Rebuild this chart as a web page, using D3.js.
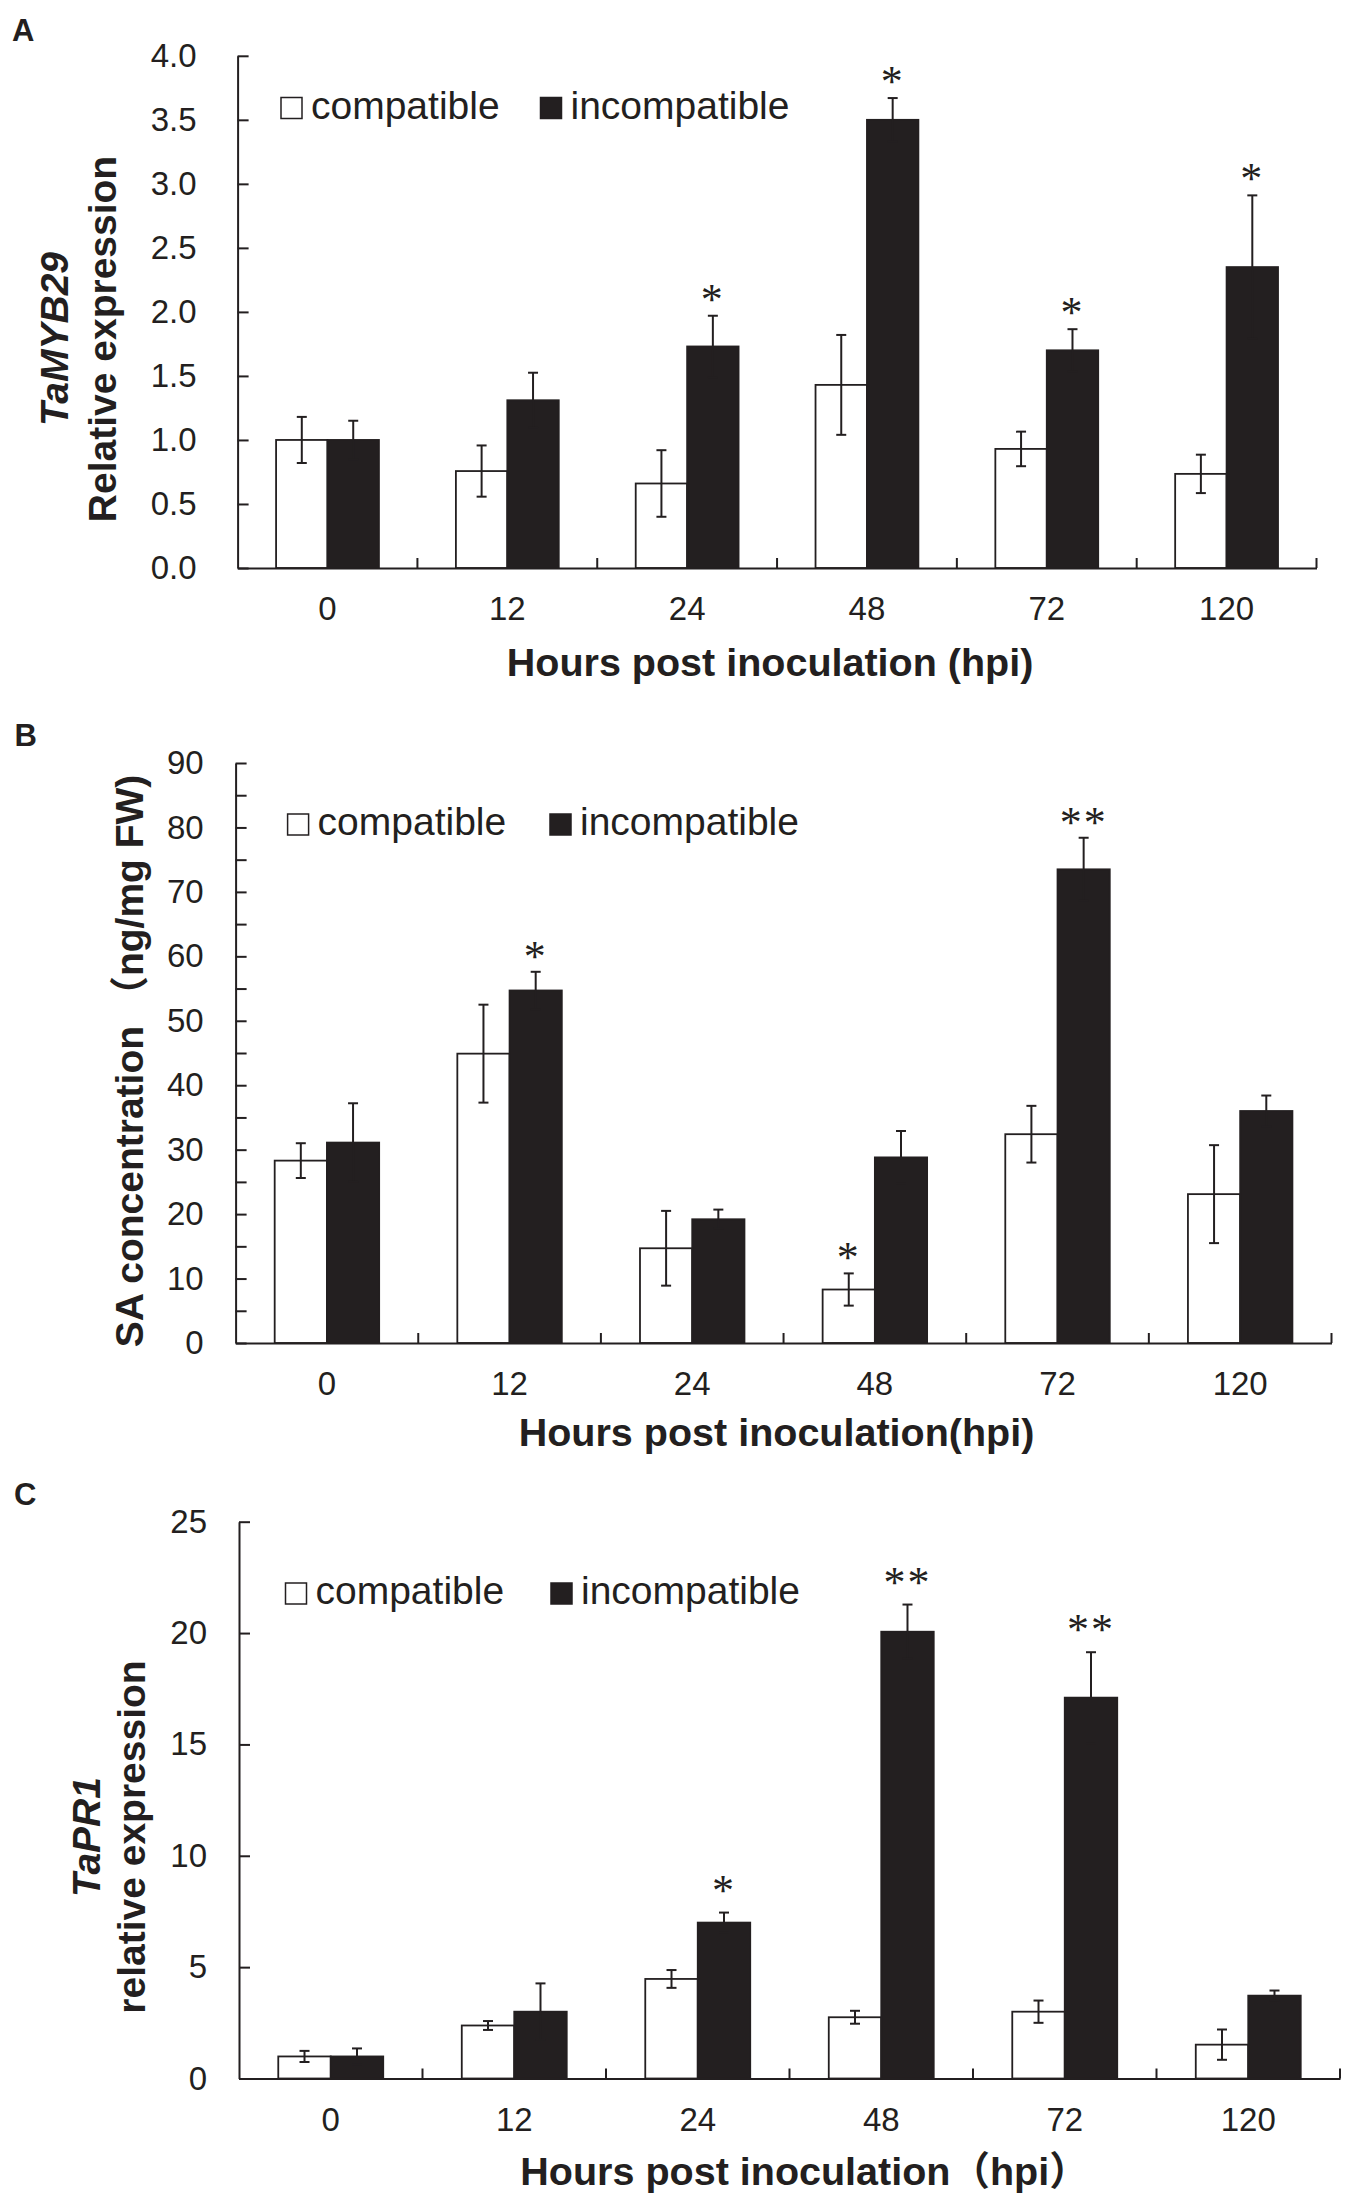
<!DOCTYPE html>
<html>
<head>
<meta charset="utf-8">
<script src="https://cdn.jsdelivr.net/npm/d3@7"></script>
<style>
  body { margin: 0; background: #fff; }
  text { font-family: "Liberation Sans", Arial, "Noto Sans CJK SC", sans-serif; fill: #231f20; }
</style>
</head>
<body>
<svg id="chart" width="1350" height="2200"></svg>
<script>
// hours post inoculation, shared by all three panels
const hours = ["0", "12", "24", "48", "72", "120"];
const seriesNames = ["compatible", "incompatible"];

// A: TaMYB29 relative expression
const mybComp = [1.0, 0.757, 0.66, 1.43, 0.93, 0.735];
const mybCompErr = [0.18, 0.2, 0.26, 0.39, 0.135, 0.15];
const mybIncomp = [1.0, 1.31, 1.73, 3.5, 1.7, 2.35];
const mybIncompErr = [0.15, 0.215, 0.24, 0.17, 0.165, 0.56];
const mybCompSig = ["", "", "", "", "", ""];
const mybIncompSig = ["", "", "*", "*", "*", "*"];
const mybTicks = [0, 0.5, 1, 1.5, 2, 2.5, 3, 3.5, 4];

// B: SA concentration (ng/mg FW)
const saComp = [28.3, 44.9, 14.7, 8.3, 32.4, 23.1];
const saCompErr = [2.7, 7.6, 5.8, 2.5, 4.4, 7.6];
const saIncomp = [31.1, 54.7, 19.2, 28.8, 73.5, 36.0];
const saIncompErr = [6.1, 2.9, 1.5, 4.1, 4.9, 2.4];
const saCompSig = ["", "", "", "*", "", ""];
const saIncompSig = ["", "*", "", "", "**", ""];
const saTicks = [0, 5, 10, 15, 20, 25, 30, 35, 40, 45, 50, 55, 60, 65, 70, 75, 80, 85, 90];

// C: TaPR1 relative expression
const pr1Comp = [0.99, 2.38, 4.47, 2.75, 3.0, 1.52];
const pr1CompErr = [0.25, 0.2, 0.4, 0.29, 0.5, 0.68];
const pr1Incomp = [0.99, 3.0, 7.0, 20.06, 17.1, 3.72];
const pr1IncompErr = [0.36, 1.27, 0.45, 1.22, 2.04, 0.23];
const pr1CompSig = ["", "", "", "", "", ""];
const pr1IncompSig = ["", "", "*", "**", "**", ""];
const pr1Ticks = [0, 5, 10, 15, 20, 25];

const dark = "#231f20";
const svg = d3.select("#chart");

const panels = [
  {
    label: "A", labelX: 12, labelY: 41,
    left: 237.6, right: 1316.5, top: 55.8, bottom: 568,
    yMax: 4, ticks: mybTicks, fmt: d3.format(".1f"), yPad: 41,
    comp: mybComp, compErr: mybCompErr, incomp: mybIncomp, incompErr: mybIncompErr,
    compSig: mybCompSig, incompSig: mybIncompSig, starGap: 23,
    legX: 281, legY: 97.5, leg2X: 540.5,
    xTitle: "Hours post inoculation (hpi)", xTitleY: 676, xTitleShift: -7,
    yTitle: [{ text: "TaMYB29", italic: true, x: 68 }, { text: "Relative expression", x: 116 }],
    yTitleY: 339
  },
  {
    label: "B", labelX: 14.6, labelY: 746,
    left: 235.6, right: 1331.5, top: 763, bottom: 1343,
    yMax: 90, ticks: saTicks, fmt: (d) => (d % 10 === 0 ? d : ""), yPad: 32,
    comp: saComp, compErr: saCompErr, incomp: saIncomp, incompErr: saIncompErr,
    compSig: saCompSig, incompSig: saIncompSig, starGap: 22,
    legX: 287.6, legY: 814, leg2X: 550,
    xTitle: "Hours post inoculation(hpi)", xTitleY: 1446, xTitleShift: -7,
    yTitle: [{ text: "SA concentration （ng/mg FW)", x: 143 }],
    yTitleY: 1061
  },
  {
    label: "C", labelX: 14, labelY: 1505,
    left: 239, right: 1340, top: 1521.7, bottom: 2078.5,
    yMax: 25, ticks: pr1Ticks, fmt: d3.format("d"), yPad: 32,
    comp: pr1Comp, compErr: pr1CompErr, incomp: pr1Incomp, incompErr: pr1IncompErr,
    compSig: pr1CompSig, incompSig: pr1IncompSig, starGap: 29,
    legX: 285.5, legY: 1583, leg2X: 551,
    xTitle: "Hours post inoculation（hpi）", xTitleY: 2185, xTitleShift: 15,
    yTitle: [{ text: "TaPR1", italic: true, x: 100 }, { text: "relative expression", x: 145 }],
    yTitleY: 1837
  }
];

function drawPanel(p) {
  const g = svg.append("g");
  const x = d3.scaleBand().domain(hours).range([p.left, p.right]);
  const y = d3.scaleLinear().domain([0, p.yMax]).range([p.bottom, p.top]);
  const bw = x.bandwidth() * 0.286;

  const series = [
    { vals: p.comp, errs: p.compErr, sig: p.compSig, fill: "#fff", off: -bw },
    { vals: p.incomp, errs: p.incompErr, sig: p.incompSig, fill: dark, off: 0 }
  ];

  series.forEach((s) => {
    const cx = (i) => x(hours[i]) + x.bandwidth() / 2 + s.off + bw / 2;

    g.selectAll(null)
      .data(s.vals)
      .join("rect")
      .attr("x", (d, i) => cx(i) - bw / 2)
      .attr("y", (d) => y(d))
      .attr("width", bw)
      .attr("height", (d) => y(0) - y(d))
      .attr("fill", s.fill)
      .attr("stroke", dark)
      .attr("stroke-width", 1.8);

    const eb = g.selectAll(null).data(s.vals).join("g").attr("stroke", dark).attr("stroke-width", 2);
    eb.append("line")
      .attr("x1", (d, i) => cx(i)).attr("x2", (d, i) => cx(i))
      .attr("y1", (d, i) => y(d - s.errs[i])).attr("y2", (d, i) => y(d + s.errs[i]));
    eb.append("line")
      .attr("x1", (d, i) => cx(i) - 5).attr("x2", (d, i) => cx(i) + 5)
      .attr("y1", (d, i) => y(d + s.errs[i])).attr("y2", (d, i) => y(d + s.errs[i]));
    eb.append("line")
      .attr("x1", (d, i) => cx(i) - 5).attr("x2", (d, i) => cx(i) + 5)
      .attr("y1", (d, i) => y(d - s.errs[i])).attr("y2", (d, i) => y(d - s.errs[i]));

    g.selectAll(null)
      .data(s.vals)
      .join("text")
      .attr("x", (d, i) => cx(i))
      .attr("y", (d, i) => y(d + s.errs[i]) - p.starGap + 21)
      .attr("text-anchor", "middle")
      .style("font-family", '"Liberation Serif", serif')
      .style("font-size", "44px")
      .style("letter-spacing", "2px")
      .text((d, i) => s.sig[i]);
  });

  // y axis, ticks point inward
  const yAxis = g.append("g")
    .attr("transform", `translate(${p.left},0)`)
    .call(d3.axisLeft(y).tickValues(p.ticks).tickFormat(p.fmt).tickSize(-11).tickSizeOuter(0).tickPadding(p.yPad));

  // x axis, labels at category centres
  const xAxis = g.append("g")
    .attr("transform", `translate(0,${y(0)})`)
    .call(d3.axisBottom(x).tickSize(0).tickSizeOuter(0).tickPadding(29));

  [yAxis, xAxis].forEach((a) => {
    a.attr("font-family", null).attr("font-size", null);
    a.select(".domain").attr("stroke", dark).attr("stroke-width", 2);
    a.selectAll(".tick line").attr("stroke", dark).attr("stroke-width", 2);
    a.selectAll("text").style("font-size", "33px").attr("fill", dark);
  });

  // category separators on the x axis
  g.selectAll(null)
    .data(hours)
    .join("line")
    .attr("x1", (d) => x(d) + x.step()).attr("x2", (d) => x(d) + x.step())
    .attr("y1", y(0)).attr("y2", y(0) - 10)
    .attr("stroke", dark).attr("stroke-width", 2);

  // legend
  [p.legX, p.leg2X].forEach((lx, i) => {
    g.append("rect")
      .attr("x", lx).attr("y", p.legY).attr("width", 21).attr("height", 21)
      .attr("fill", i === 0 ? "#fff" : dark).attr("stroke", dark).attr("stroke-width", 1.5);
    g.append("text")
      .attr("x", lx + 30).attr("y", p.legY + 21)
      .style("font-size", "39px")
      .text(seriesNames[i]);
  });

  // axis titles
  g.append("text")
    .attr("x", (p.left + p.right) / 2 + p.xTitleShift)
    .attr("y", p.xTitleY)
    .attr("text-anchor", "middle")
    .style("font-size", "39.5px").style("font-weight", "bold")
    .text(p.xTitle);

  p.yTitle.forEach((t) => {
    g.append("text")
      .attr("transform", `translate(${t.x},${p.yTitleY}) rotate(-90)`)
      .attr("text-anchor", "middle")
      .style("font-size", "39px").style("font-weight", "bold")
      .style("font-style", t.italic ? "italic" : "normal")
      .text(t.text);
  });

  g.append("text")
    .attr("x", p.labelX).attr("y", p.labelY)
    .style("font-size", "31px").style("font-weight", "bold")
    .text(p.label);
}

panels.forEach(drawPanel);
</script>
</body>
</html>
